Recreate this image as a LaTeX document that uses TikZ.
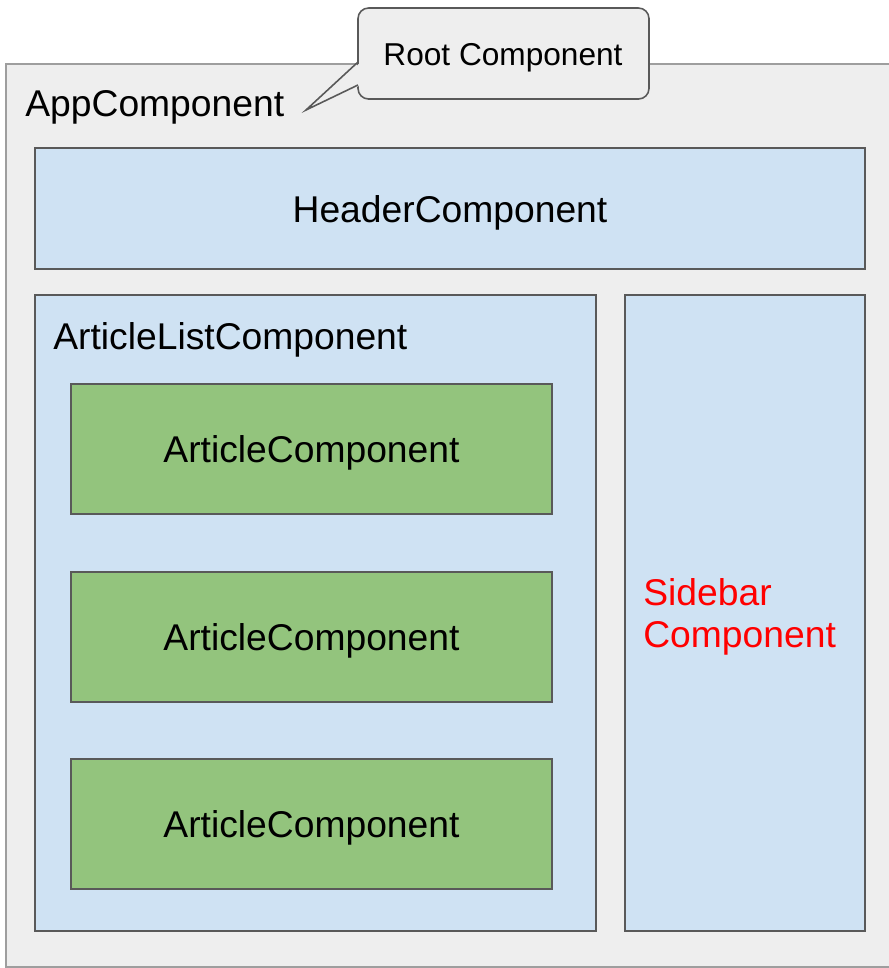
\documentclass[tikz,border=0pt]{standalone}
\usepackage{fontspec}
\setmainfont{Liberation Sans}
\definecolor{appgray}{HTML}{EEEEEE}
\definecolor{framegray}{HTML}{9E9E9E}
\definecolor{edgegray}{HTML}{595959}
\definecolor{paleblue}{HTML}{CFE2F3}
\definecolor{leafgreen}{HTML}{93C47D}
\tikzset{
  compbox/.style={draw=edgegray, line width=1.2pt},
  bigtext/.style={font=\fontsize{21.2}{25}\selectfont, inner sep=0pt},
}
\begin{document}
\begin{tikzpicture}[x=0.02cm, y=-0.02cm]
   \def\Xa{35};
   \def\Xb{596};
   \def\Xc{625};
   \def\Xd{865};
   \def\Xl{71};
   \def\Xr{552};
   \useasboundingbox (0,0) rectangle (889,968);

        % app frame
        \draw [fill=appgray, draw=framegray, line width=1.1pt] (6, 64) rectangle (900, 967);
        % callout
        \draw [fill=appgray, draw=edgegray, line width=0.9pt, rounded corners=6pt] (358, 8) rectangle (649, 99);
        \fill [appgray] (361, 62) -- (306, 110) -- (361, 85) -- cycle;
        \draw [edgegray, line width=0.9pt, line join=miter] (358, 62) -- (306, 110) -- (358, 85);

        % header, list, sidebar
        \draw [compbox, fill=paleblue] (\Xa, 148) rectangle (\Xd, 269);
        \draw [compbox, fill=paleblue] (\Xa, 295) rectangle (\Xb, 931);
        \draw [compbox, fill=paleblue] (\Xc, 295) rectangle (\Xd, 931);
        % articles
        \foreach \Yt/\Yb [count=\i] in {384/514, 572/702, 759/889} {
          \draw [compbox, fill=leafgreen] (\Xl, \Yt) rectangle (\Xr, \Yb);
          \node [bigtext] (article\i) at ({(\Xl + \Xr)/2}, {(\Yt + \Yb)/2 + 4}) {ArticleComponent};
        }

        % labels
        \node [font=\fontsize{18}{22}\selectfont, inner sep=0pt] (root) at (503, 58) {Root Component};
        \node [bigtext, anchor=base west] (app) at (25, 116) {AppComponent};
        \node [bigtext] (header) at (450, 213) {HeaderComponent};
        \node [bigtext, anchor=base west] (list) at (53, 349) {ArticleListComponent};
        \node [bigtext, anchor=base west, align=left, text=red, font=\fontsize{21.2}{23.8}\selectfont] (sidebar) at (643, 647) {Sidebar\\Component};
\end{tikzpicture}
\end{document}
